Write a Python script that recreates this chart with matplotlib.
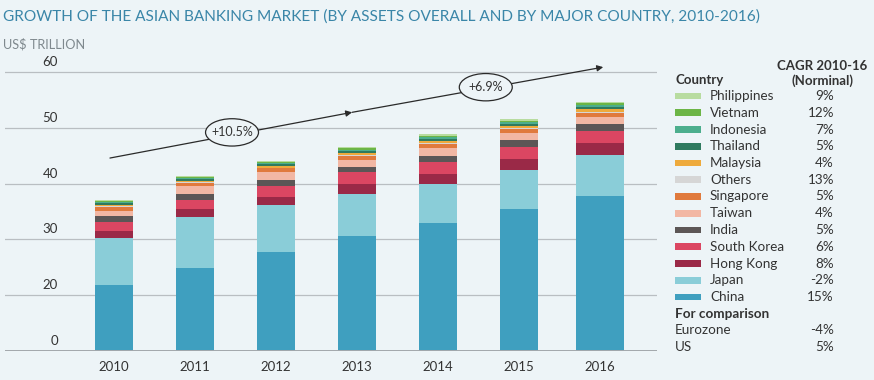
import matplotlib.pyplot as plt
import matplotlib.transforms as mtransforms
from matplotlib.patches import Ellipse, Rectangle

plt.rcParams['font.family'] = ['Lato', 'DejaVu Sans']

years = ['2010', '2011', '2012', '2013', '2014', '2015', '2016']

# US$ trillion (the axis hides everything below 10)
china = [21.9, 24.9, 27.7, 30.7, 32.9, 35.4, 37.8]
japan = [8.4, 9.2, 8.5, 7.5, 7.0, 7.1, 7.4]
hong_kong = [1.14, 1.44, 1.5, 1.74, 1.92, 1.92, 2.1]
south_korea = [1.74, 1.56, 1.95, 2.1, 2.04, 2.16, 2.16]
india = [0.96, 1.0, 1.08, 0.96, 1.08, 1.2, 1.32]
taiwan = [1.0, 1.5, 1.4, 1.32, 1.4, 1.32, 1.2]
singapore = [0.6, 0.5, 0.6, 0.6, 0.75, 0.65, 0.72]
others = [0.2, 0.15, 0.15, 0.2, 0.2, 0.2, 0.2]
malaysia = [0.3, 0.3, 0.35, 0.4, 0.45, 0.45, 0.55]
thailand = [0.25, 0.25, 0.25, 0.3, 0.3, 0.3, 0.35]
indonesia = [0.2, 0.2, 0.2, 0.25, 0.25, 0.3, 0.3]
vietnam = [0.2, 0.2, 0.2, 0.25, 0.3, 0.3, 0.3]
philippines = [0.2, 0.2, 0.25, 0.25, 0.3, 0.3, 0.3]

series = [
    ('China', china, '#3f9fbf', '15%'),
    ('Japan', japan, '#8acdd8', '-2%'),
    ('Hong Kong', hong_kong, '#9a2947', '8%'),
    ('South Korea', south_korea, '#db4662', '6%'),
    ('India', india, '#5c5656', '5%'),
    ('Taiwan', taiwan, '#f2b7a4', '4%'),
    ('Singapore', singapore, '#e07a3d', '5%'),
    ('Others', others, '#d6d6d6', '13%'),
    ('Malaysia', malaysia, '#eeaa3c', '4%'),
    ('Thailand', thailand, '#2f7a5f', '5%'),
    ('Indonesia', indonesia, '#4cae8d', '7%'),
    ('Vietnam', vietnam, '#6cb546', '12%'),
    ('Philippines', philippines, '#b8dca0', '9%'),
]
comparison = [('Eurozone', '-4%'), ('US', '5%')]

ytick_values = [10, 20, 30, 40, 50, 60]
ytick_labels = ['0', '20', '30', '40', '50', '60']

bg = '#edf4f7'
text_col = '#333333'

fig = plt.figure(figsize=(8.74, 3.8), dpi=100, facecolor=bg)
ax = fig.add_axes([5 / 874, 29 / 380, 652 / 874, 290 / 380], facecolor=bg)

xs = list(range(len(years)))
widths = [0.47] * (len(years) - 1) + [0.6]
bottom = [0.0] * len(years)
for name, vals, col, _ in series:
    ax.bar(xs, vals, width=widths, bottom=bottom, color=col, linewidth=0, zorder=3)
    bottom = [b + v for b, v in zip(bottom, vals)]

ax.set_xlim(-1.346, 6.704)
ax.set_ylim(10, 62)
ax.set_yticks(ytick_values)
ax.set_yticklabels([])
ax.tick_params(axis='y', length=0)
ax.grid(axis='y', color='#b9bec2', linewidth=0.9, zorder=0)
ax.axhline(10, color='#a3a8ac', linewidth=1.4, zorder=4)
for s in ax.spines.values():
    s.set_visible(False)

ax.set_xticks(xs)
ax.set_xticklabels(years, fontsize=9.5, color=text_col)
ax.tick_params(axis='x', length=0, pad=7)

# y labels sit just above their gridlines
trans = mtransforms.blended_transform_factory(ax.transAxes, ax.transData)
trans = trans + mtransforms.ScaledTranslation(0, 3 / 72, fig.dpi_scale_trans)
for v, lab in zip(ytick_values, ytick_labels):
    ax.text(0.0813, v, lab, transform=trans, ha='right', va='bottom',
            fontsize=9.5, color=text_col)

# growth arrows
arrow = dict(arrowstyle='-|>', color='#2a2a2a', lw=0.9, mutation_scale=9,
             shrinkA=0, shrinkB=0)
ax.annotate('', xy=(2.94, 52.8), xytext=(-0.05, 44.6), arrowprops=arrow,
            annotation_clip=False, zorder=5)
ax.annotate('', xy=(6.04, 60.9), xytext=(2.94, 52.8), arrowprops=arrow,
            annotation_clip=False, zorder=5)
for cx, cy, lab in [(1.457, 49.2, '+10.5%'), (4.59, 57.3, '+6.9%')]:
    ax.add_patch(Ellipse((cx, cy), 0.654, 4.9, facecolor=bg, edgecolor='#2a2a2a',
                         linewidth=0.9, zorder=6, clip_on=False))
    ax.text(cx, cy, lab, ha='center', va='center', fontsize=9,
            color=text_col, zorder=7)

# titles
fig.text(3 / 874, 1 - 17 / 380, 'GROWTH OF THE ASIAN BANKING MARKET (BY ASSETS OVERALL AND BY MAJOR COUNTRY, 2010-2016)',
         ha='left', va='center', fontsize=11.1, color='#3a86a8')
fig.text(3 / 874, 1 - 44 / 380, 'US$ TRILLION', ha='left', va='center',
         fontsize=9.2, color='#7f898e')

# legend table
def fy(py):
    return 1 - py / 380

fig.text(675 / 874, fy(80.5), 'Country', ha='left', va='center', fontsize=9.5,
         fontweight='bold', color=text_col)
fig.text(822 / 874, fy(66.5), 'CAGR 2010-16', ha='center', va='center', fontsize=9.5,
         fontweight='bold', color=text_col)
fig.text(822 / 874, fy(80.5), '(Norminal)', ha='center', va='center', fontsize=9.5,
         fontweight='bold', color=text_col)

row_y = 96.0
step = 16.75
for name, _, col, cagr in reversed(series):
    fig.patches.append(Rectangle((675 / 874, fy(row_y + 3.3)), 26 / 874, 6.6 / 380,
                                 transform=fig.transFigure, facecolor=col,
                                 edgecolor='none'))
    fig.text(710 / 874, fy(row_y), name, ha='left', va='center', fontsize=9.7,
             color=text_col)
    fig.text(834 / 874, fy(row_y), cagr, ha='right', va='center', fontsize=9.7,
             color=text_col)
    row_y += step

fig.text(675 / 874, fy(row_y), 'For comparison', ha='left', va='center',
         fontsize=9.7, fontweight='bold', color=text_col)
row_y += step
for name, cagr in comparison:
    fig.text(675 / 874, fy(row_y), name, ha='left', va='center', fontsize=9.7,
             color=text_col)
    fig.text(834 / 874, fy(row_y), cagr, ha='right', va='center', fontsize=9.7,
             color=text_col)
    row_y += step

fig.savefig('out.png', dpi=100, facecolor=bg)
